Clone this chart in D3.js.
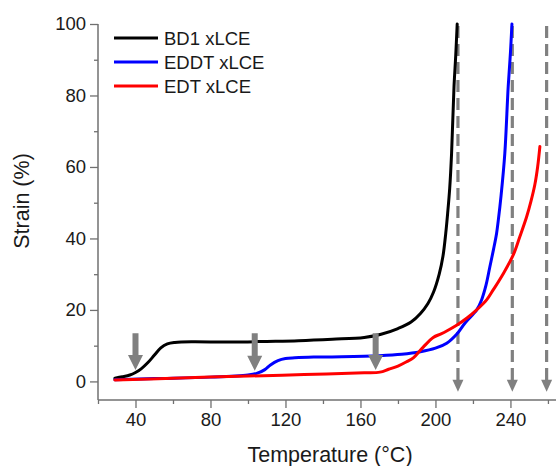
<!DOCTYPE html>
<html>
<head>
<meta charset="utf-8">
<script src="https://cdn.jsdelivr.net/npm/d3@7"></script>
<style>
  html, body { margin: 0; padding: 0; background: #fff; }
  svg { display: block; }
  text { font-family: "Liberation Sans", Arial, sans-serif; }
</style>
</head>
<body>
<svg id="chart" width="556" height="466"></svg>
<script>
// ---- data ----
const seriesNames = ["BD1 xLCE", "EDDT xLCE", "EDT xLCE"];
const seriesColors = ["#000000", "#0000ff", "#ff0000"];

const bd1T = [29, 33, 37, 40, 43, 46.5, 50, 53.5, 57, 61, 70, 90, 110, 127, 145, 162, 171, 180, 187, 192, 196, 199, 202, 204, 205.5, 206.5, 207.6, 208.6, 209.9, 210.8, 211.6];
const bd1S = [0.9, 1.3, 1.8, 2.5, 3.5, 5.2, 7.3, 9.4, 10.5, 10.9, 11.1, 11.0, 11.2, 11.4, 11.8, 12.3, 13.2, 14.8, 16.6, 19.0, 21.8, 25.0, 30.0, 35.0, 41.5, 47.0, 54.0, 63.8, 82.5, 91.0, 100];

const eddtT = [29, 50, 80, 100, 105, 109, 112, 116, 120, 125, 135, 150, 170, 182, 192, 200, 206, 211.3, 216, 222, 224.6, 227, 229, 231, 232.6, 233.5, 235, 237, 238.8, 240, 240.8];
const eddtS = [0.5, 0.8, 1.2, 1.8, 2.3, 3.3, 4.6, 5.8, 6.4, 6.6, 6.8, 6.9, 7.2, 7.6, 8.3, 9.3, 10.7, 13.2, 16.5, 20.0, 22.8, 27.0, 32.0, 37.0, 41.4, 45.0, 52.0, 63.8, 82.5, 92.0, 100];

const edtT = [29, 60, 100, 130, 162, 170.4, 175, 180, 184.6, 188.2, 191.7, 193.5, 198.8, 203, 206, 211.3, 217, 222, 227.3, 230.8, 236, 241.5, 245, 248.6, 251, 253, 254.5, 255.7];
const edtS = [0.4, 0.9, 1.5, 1.9, 2.4, 2.6, 3.4, 4.3, 5.5, 6.6, 8.6, 9.6, 12.3, 13.3, 14.1, 15.7, 17.8, 20.0, 22.8, 25.6, 30.0, 35.4, 40.5, 46.0, 50.5, 55.0, 60.0, 65.7];

const xMajorTicks = [40, 80, 120, 160, 200, 240];
const xMinorTicks = [20, 60, 100, 140, 180, 220, 260];
const yMajorTicks = [0, 20, 40, 60, 80, 100];
const yMinorTicks = [10, 30, 50, 70, 90];

// solid grey arrows: temperature, top strain, tip strain
const arrowT = [40, 103.6, 168.1];
const arrowTopS = [13.5, 13.5, 13.5];
const arrowTipS = [3.2, 3.0, 3.2];

// dashed grey arrows: temperature, top strain, tip strain
const dashT = [212, 241, 259.3];
const dashTopS = 100;
const dashTipS = -2.9;

const xLabel = "Temperature (°C)";
const yLabel = "Strain (%)";

// ---- layout ----
const svg = d3.select("#chart");
const L = 98, T0 = 24, B = 400, R = 556;
const x = d3.scaleLinear().domain([20, 264.3]).range([L, R]);
const y = d3.scaleLinear().domain([-5.2, 100]).range([B, T0]);
const axisColor = "#707070";
const textColor = "#1a1a1a";

// axes
const xAxisG = svg.append("g").attr("transform", `translate(0,${B})`)
  .call(d3.axisBottom(x).tickValues(xMajorTicks).tickSize(8).tickPadding(5).tickFormat(d3.format("d")));
const xMinorG = svg.append("g").attr("transform", `translate(0,${B})`)
  .call(d3.axisBottom(x).tickValues(xMinorTicks).tickSize(4).tickFormat(""));
const yAxisG = svg.append("g").attr("transform", `translate(${L},0)`)
  .call(d3.axisLeft(y).tickValues(yMajorTicks).tickSize(8).tickPadding(4).tickFormat(d3.format("d")));
const yMinorG = svg.append("g").attr("transform", `translate(${L},0)`)
  .call(d3.axisLeft(y).tickValues(yMinorTicks).tickSize(4).tickFormat(""));

[xAxisG, xMinorG, yAxisG, yMinorG].forEach(g => {
  g.select(".domain").remove();
  g.selectAll(".tick line").attr("stroke", axisColor).attr("stroke-width", 1.3);
  g.selectAll(".tick text").attr("fill", textColor).style("font-size", "18.5px")
    .style("font-family", '"Liberation Sans", Arial, sans-serif');
});
// axis lines
svg.append("line").attr("x1", L).attr("x2", L).attr("y1", y(100)).attr("y2", B)
  .attr("stroke", axisColor).attr("stroke-width", 1.5);
svg.append("line").attr("x1", L).attr("x2", R).attr("y1", B).attr("y2", B)
  .attr("stroke", axisColor).attr("stroke-width", 1.5);

// axis titles
svg.append("text").attr("x", 330).attr("y", 461.5).attr("text-anchor", "middle")
  .attr("fill", textColor).style("font-size", "21.5px").text(xLabel);
svg.append("text").attr("transform", "translate(29,201) rotate(-90)").attr("text-anchor", "middle")
  .attr("fill", textColor).style("font-size", "21.5px").text(yLabel);

// dashed arrows
const grey = "#808080";
dashT.forEach(t => {
  const px = x(t), tip = y(dashTipS);
  svg.append("line").attr("x1", px).attr("x2", px).attr("y1", y(dashTopS) + 2).attr("y2", tip - 10)
    .attr("stroke", grey).attr("stroke-width", 3.2).attr("stroke-dasharray", "12,6");
  svg.append("path").attr("d", `M${px - 5.5},${tip - 12}L${px + 5.5},${tip - 12}L${px},${tip}Z`)
    .attr("fill", grey);
});

// curves
const line = d3.line().x(d => x(d[0])).y(d => y(d[1])).curve(d3.curveCatmullRom.alpha(0.5));
const seriesData = [
  d3.zip(bd1T, bd1S),
  d3.zip(eddtT, eddtS),
  d3.zip(edtT, edtS)
];
seriesData.forEach((data, i) => {
  svg.append("path").datum(data).attr("d", line)
    .attr("fill", "none").attr("stroke", seriesColors[i]).attr("stroke-width", 3)
    .attr("stroke-linejoin", "round").attr("stroke-linecap", "round");
});

// solid arrows
arrowT.forEach((t, i) => {
  const px = x(t), top = y(arrowTopS[i]), tip = y(arrowTipS[i]);
  const hb = tip - 15;
  svg.append("path")
    .attr("d", `M${px - 3},${top}L${px + 3},${top}L${px + 3},${hb}L${px + 7.5},${hb}L${px},${tip}L${px - 7.5},${hb}L${px - 3},${hb}Z`)
    .attr("fill", grey);
});

// legend
seriesNames.forEach((name, i) => {
  const ly = 38 + i * 24;
  svg.append("line").attr("x1", 114).attr("x2", 158).attr("y1", ly).attr("y2", ly)
    .attr("stroke", seriesColors[i]).attr("stroke-width", 3);
  svg.append("text").attr("x", 164).attr("y", ly + 6.5).attr("fill", textColor)
    .style("font-size", "18.5px").text(name);
});
</script>
</body>
</html>
